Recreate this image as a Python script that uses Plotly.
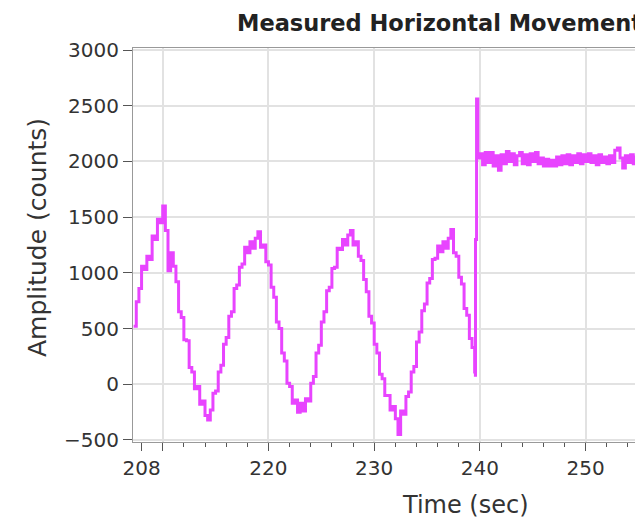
import plotly.graph_objects as go

# ---- data ----
osc_time = [207.25, 207.5, 207.75, 208.0, 208.25, 208.5, 208.75, 209.0, 209.25, 209.5, 209.75,
            210.0, 210.25, 210.5, 210.75, 211.0, 211.25, 211.5, 211.75, 212.0, 212.25, 212.5, 212.75,
            213.0, 213.25, 213.5, 213.75, 214.0, 214.25, 214.5, 214.75, 215.0, 215.25, 215.5, 215.75,
            216.0, 216.25, 216.5, 216.75, 217.0, 217.25, 217.5, 217.75, 218.0, 218.25, 218.5, 218.75,
            219.0, 219.25, 219.5, 219.75, 220.0, 220.25, 220.5, 220.75, 221.0, 221.25, 221.5, 221.75,
            222.0, 222.25, 222.5, 222.75, 223.0, 223.25, 223.5, 223.75, 224.0, 224.25, 224.5, 224.75,
            225.0, 225.25, 225.5, 225.75, 226.0, 226.25, 226.5, 226.75, 227.0, 227.25, 227.5, 227.75,
            228.0, 228.25, 228.5, 228.75, 229.0, 229.25, 229.5, 229.75, 230.0, 230.25, 230.5, 230.75,
            231.0, 231.25, 231.5, 231.75, 232.0, 232.25, 232.5, 232.75, 233.0, 233.25, 233.5, 233.75,
            234.0, 234.25, 234.5, 234.75, 235.0, 235.25, 235.5, 235.75, 236.0, 236.25, 236.5, 236.75,
            237.0, 237.25, 237.5, 237.75, 238.0, 238.25, 238.5, 238.75, 239.0, 239.25, 239.5, 239.57]
osc_counts = [520, 740, 860, 1060, 1030, 1150, 1120, 1330, 1300, 1480, 1450,
              1600, 1380, 1020, 1180, 1060, 920, 650, 600, 400, 390, 150, 110,
              -40, -20, -180, -150, -280, -320, -230, -80, -60, 110, 170, 360,
              420, 610, 650, 860, 890, 1050, 1080, 1230, 1180, 1280, 1220, 1310,
              1370, 1230, 1250, 1100, 1070, 870, 780, 560, 500, 280, 210, 10,
              -20, -170, -140, -250, -170, -240, -130, -150, 10, 70, 280, 350,
              560, 650, 840, 870, 1040, 1050, 1220, 1210, 1300, 1250, 1340, 1380,
              1250, 1280, 1150, 1110, 940, 830, 610, 550, 360, 280, 90, 50,
              -100, -100, -230, -200, -310, -450, -240, -270, -110, -70, 110, 160,
              380, 470, 660, 720, 910, 950, 1120, 1130, 1240, 1190, 1280, 1220,
              1310, 1390, 1180, 1150, 960, 900, 680, 620, 410, 330, 110, 80]

step_time = [239.58, 239.68, 239.8]
step_counts = [1300, 2560, 2030]

hold_time = [240.0, 240.25, 240.5, 240.75, 241.0, 241.25, 241.5, 241.75, 242.0, 242.25, 242.5, 242.75,
             243.0, 243.25, 243.5, 243.75, 244.0, 244.25, 244.5, 244.75, 245.0, 245.25, 245.5, 245.75,
             246.0, 246.25, 246.5, 246.75, 247.0, 247.25, 247.5, 247.75, 248.0, 248.25, 248.5, 248.75,
             249.0, 249.25, 249.5, 249.75, 250.0, 250.25, 250.5, 250.75, 251.0, 251.25, 251.5, 251.75,
             252.0, 252.25, 252.5, 252.75, 253.0, 253.25, 253.5, 253.75, 254.0, 254.25, 254.5, 254.75,
             255.0, 255.25, 255.5]
hold_counts = [2070, 1970, 2080, 1990, 2080, 1960, 2050, 1920, 2060, 1980, 2090, 2000,
               2070, 1970, 2050, 2080, 1980, 2060, 1970, 2070, 2000, 2080, 1980, 2030,
               1960, 2020, 1960, 2010, 1960, 2040, 1970, 2050, 1980, 2060, 1970, 2050,
               1990, 2070, 1980, 2060, 2000, 2070, 1990, 2050, 1970, 2060, 1990, 2040,
               1980, 2050, 1990, 2100, 2120, 2030, 1940, 2050, 1990, 2060, 1980, 2040,
               1980, 2050, 2000]

x_tick_vals = [208, 210, 220, 230, 240, 250]
x_tick_text = ["208", "", "220", "230", "240", "250"]
x_grid_vals = [210, 220, 230, 240, 250]
y_tick_vals = [-500, 0, 500, 1000, 1500, 2000, 2500, 3000]

time = osc_time + step_time + hold_time
counts = osc_counts + step_counts + hold_counts

FONT = "DejaVu Sans"
LINE_COLOR = "#E844FF"

fig = go.Figure()
fig.add_trace(go.Scatter(x=time, y=counts, mode="lines", line=dict(color=LINE_COLOR, width=3, shape="hv"),
                         showlegend=False, hoverinfo="skip"))
fig.add_trace(go.Scatter(x=[], y=[], xaxis="x2", showlegend=False, hoverinfo="skip"))

# the page body has an 8px margin, so the figure is laid out 8px up/left of the page picture
fig.update_layout(
    width=635, height=515,
    margin=dict(l=125, r=0, t=40, b=81),
    paper_bgcolor="white", plot_bgcolor="white",
    font=dict(family=FONT, color="#333"),
    xaxis=dict(range=[207.19, 255.42], tickmode="array", tickvals=x_tick_vals, ticktext=x_tick_text,
               ticks="outside", ticklen=8, tickcolor="#555", tickwidth=1,
               showline=True, linecolor="#999", linewidth=1, showgrid=False, zeroline=False,
               tickfont=dict(size=20, family=FONT, color="#333"),
               minor=dict(tick0=208, dtick=2, ticks="outside", ticklen=4, tickcolor="#555", showgrid=False)),
    xaxis2=dict(overlaying="x", matches="x", side="top", tickmode="array", tickvals=x_grid_vals,
                showticklabels=False, ticks="", showgrid=True, gridcolor="#e2e2e2", gridwidth=1.5,
                showline=True, linecolor="#999", linewidth=1, zeroline=False),
    yaxis=dict(range=[-518, 3018], tickmode="array", tickvals=y_tick_vals,
               ticks="outside", ticklen=9, tickcolor="#555", tickwidth=1,
               showline=True, linecolor="#999", linewidth=1, showgrid=True, gridcolor="#e2e2e2",
               gridwidth=1.5, zeroline=False, tickfont=dict(size=20, family=FONT, color="#333")),
    annotations=[
        dict(text="<b>Measured Horizontal Movement</b>", xref="paper", yref="paper", x=0.2, y=1.0635,
             xanchor="left", yanchor="middle", showarrow=False, font=dict(size=22.5, family=FONT, color="#222")),
        dict(text="Time (sec)", xref="paper", yref="paper", x=0.651, y=-0.16,
             xanchor="center", yanchor="middle", showarrow=False, font=dict(size=24, family=FONT, color="#333")),
        dict(text="Amplitude (counts)", xref="paper", yref="paper", x=-0.186, y=0.518, textangle=-90,
             xanchor="center", yanchor="middle", showarrow=False, font=dict(size=25, family=FONT, color="#333")),
    ],
)

fig.write_html("out.html")
